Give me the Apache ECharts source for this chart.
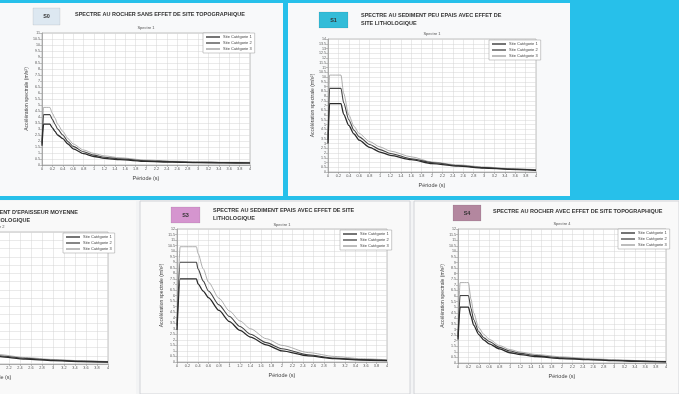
<!DOCTYPE html>
<html>
<head>
<meta charset="utf-8">
<script src="https://cdn.jsdelivr.net/npm/echarts@6/dist/echarts.min.js"></script>
<style>
  html, body { margin: 0; padding: 0; background: #f3f4f5; }
  #main { width: 679px; height: 394px; }
</style>
</head>
<body>
<div id="main"></div>
<script>
// categories (legend)
var categories = ['Site Catégorie 1', 'Site Catégorie 2', 'Site Catégorie 3'];

// S0 : rocher sans effet topographique
var periods0 = [0, 0.03, 0.15, 0.2, 0.25, 0.3, 0.4, 0.5, 0.6, 0.8, 1.0, 1.2, 1.5, 2.0, 2.5, 3.0, 3.5, 4.0];
var s0cat1 = [1.6, 3.4, 3.4, 3.1, 2.8, 2.5, 2.2, 1.75, 1.35, 0.95, 0.71, 0.56, 0.44, 0.3, 0.24, 0.2, 0.17, 0.16];
var s0cat2 = [1.8, 4.2, 4.2, 3.8, 3.4, 3.0, 2.5, 1.95, 1.55, 1.1, 0.82, 0.65, 0.51, 0.36, 0.28, 0.23, 0.2, 0.19];
var s0cat3 = [2.0, 4.8, 4.8, 4.3, 3.9, 3.4, 2.8, 2.2, 1.75, 1.25, 0.96, 0.76, 0.6, 0.41, 0.32, 0.27, 0.23, 0.22];

// S1 : sediment peu epais
var periods1 = [0, 0.03, 0.25, 0.3, 0.4, 0.5, 0.6, 0.8, 1.0, 1.2, 1.6, 2.0, 2.5, 3.0, 3.5, 4.0];
var s1cat1 = [3.0, 7.2, 7.2, 6.1, 4.9, 4.0, 3.35, 2.6, 2.1, 1.75, 1.3, 0.88, 0.62, 0.42, 0.28, 0.18];
var s1cat2 = [3.4, 8.8, 8.8, 7.3, 5.5, 4.4, 3.7, 2.9, 2.36, 1.95, 1.4, 1.0, 0.68, 0.46, 0.31, 0.21];
var s1cat3 = [3.8, 10.2, 10.2, 8.3, 6.0, 4.8, 4.05, 3.2, 2.64, 2.2, 1.6, 1.05, 0.75, 0.53, 0.36, 0.25];

// S2 : sediment d'epaisseur moyenne (partiellement visible)
var periods2 = [0, 0.05, 0.3, 0.4, 0.5, 0.6, 0.8, 1.0, 1.2, 1.5, 2.0, 2.5, 3.0, 3.5, 4.0];
var s2cat1 = [3.2, 8.0, 8.0, 6.2, 5.0, 4.2, 3.2, 2.5, 2.0, 1.5, 0.9, 0.6, 0.42, 0.3, 0.22];
var s2cat2 = [3.6, 9.4, 9.4, 7.2, 5.8, 4.8, 3.6, 2.8, 2.25, 1.7, 1.0, 0.68, 0.48, 0.35, 0.26];
var s2cat3 = [4.0, 11.0, 11.0, 8.4, 6.7, 5.5, 4.1, 3.2, 2.6, 1.95, 1.15, 0.78, 0.55, 0.4, 0.3];

// S3 : sediment epais
var periods3 = [0, 0.06, 0.37, 0.4, 0.5, 0.6, 0.8, 1.0, 1.2, 1.4, 1.7, 2.0, 2.5, 3.0, 3.5, 4.0];
var s3cat1 = [2.9, 7.5, 7.5, 7.05, 6.4, 5.8, 4.65, 3.65, 2.85, 2.25, 1.55, 1.0, 0.55, 0.3, 0.18, 0.12];
var s3cat2 = [3.3, 9.0, 9.0, 8.4, 7.3, 6.4, 5.15, 4.1, 3.2, 2.5, 1.75, 1.2, 0.65, 0.35, 0.22, 0.15];
var s3cat3 = [3.7, 10.4, 10.4, 9.8, 8.4, 7.2, 5.75, 4.6, 3.7, 3.0, 2.1, 1.5, 0.85, 0.5, 0.3, 0.2];

// S4 : rocher avec effet topographique
var periods4 = [0, 0.04, 0.2, 0.25, 0.3, 0.4, 0.5, 0.6, 0.8, 1.0, 1.2, 1.5, 2.0, 2.5, 3.0, 3.5, 4.0];
var s4cat1 = [2.1, 5.0, 5.0, 4.2, 3.4, 2.55, 2.05, 1.72, 1.26, 0.92, 0.75, 0.58, 0.4, 0.3, 0.21, 0.15, 0.1];
var s4cat2 = [2.3, 6.05, 6.05, 4.9, 3.9, 2.8, 2.25, 1.92, 1.4, 1.07, 0.86, 0.66, 0.46, 0.34, 0.25, 0.18, 0.12];
var s4cat3 = [2.6, 7.2, 7.2, 5.7, 4.5, 3.15, 2.55, 2.12, 1.56, 1.2, 0.98, 0.76, 0.55, 0.4, 0.3, 0.21, 0.15];

var yMax = [11, 14, 16, 12, 12];
var yStep = [0.5, 0.5, 1, 0.5, 0.5];

var panels = [
    {periods: periods0, vals: [s0cat1, s0cat2, s0cat3], grid: {left: 42, top: 33, width: 208, height: 132}, legend: {left: 203, top: 33}},
    {periods: periods1, vals: [s1cat1, s1cat2, s1cat3], grid: {left: 328, top: 39, width: 208, height: 133}, legend: {left: 489, top: 40}},
    {periods: periods2, vals: [s2cat1, s2cat2, s2cat3], grid: {left: -112, top: 232, width: 220, height: 132}, legend: {left: 63, top: 233}},
    {periods: periods3, vals: [s3cat1, s3cat2, s3cat3], grid: {left: 177, top: 229, width: 210, height: 133}, legend: {left: 340, top: 230}},
    {periods: periods4, vals: [s4cat1, s4cat2, s4cat3], grid: {left: 458, top: 229, width: 208, height: 134}, legend: {left: 618, top: 229}}
];

// styles des 3 courbes
var lineStyles = [
    {color: '#2a2a2a', width: 1.3},
    {color: '#444', width: 1.1},
    {color: '#9a9a9a', width: 0.8}
];

function pairs(xs, ys) {
    var out = [];
    for (var i = 0; i < xs.length; i++) out.push([xs[i], ys[i]]);
    return out;
}

var grids = [], xAxes = [], yAxes = [], series = [], legends = [];
panels.forEach(function (p, k) {
    grids.push({
        left: p.grid.left, top: p.grid.top, width: p.grid.width, height: p.grid.height,
        outerBoundsMode: 'none', containLabel: false,
        show: true, backgroundColor: '#fff', borderColor: '#9a9a9a', borderWidth: 0.6
    });
    xAxes.push({
        type: 'value', gridIndex: k, min: 0, max: 4, interval: 0.2,
        name: 'Période (s)', nameLocation: 'middle', nameGap: 10,
        nameTextStyle: {fontSize: 5.5, color: '#444'},
        axisLine: {lineStyle: {color: '#888', width: 0.6}},
        axisTick: {length: 2, lineStyle: {color: '#888', width: 0.5}},
        axisLabel: {fontSize: 3.8, color: '#555', margin: 2},
        splitLine: {lineStyle: {color: '#d4d4d4', width: 0.5}}
    });
    yAxes.push({
        type: 'value', gridIndex: k, min: 0, max: yMax[k], interval: yStep[k],
        name: 'Accélération spectrale (m/s²)', nameLocation: 'middle', nameGap: 13,
        nameTextStyle: {fontSize: 5, color: '#444'},
        axisLine: {show: true, lineStyle: {color: '#888', width: 0.6}},
        axisTick: {length: 2, lineStyle: {color: '#888', width: 0.5}},
        axisLabel: {fontSize: 3.6, color: '#555', margin: 2},
        splitLine: {lineStyle: {color: '#d4d4d4', width: 0.5}}
    });
    for (var c = 0; c < 3; c++) {
        series.push({
            name: categories[c], type: 'line', xAxisIndex: k, yAxisIndex: k,
            data: pairs(p.periods, p.vals[c]),
            showSymbol: false, smooth: 0.25, smoothMonotone: 'x',
            lineStyle: lineStyles[c], itemStyle: {color: lineStyles[c].color},
            z: 3 - c
        });
    }
    legends.push({
        data: categories, orient: 'vertical', left: p.legend.left, top: p.legend.top,
        itemWidth: 14, itemHeight: 1.3, itemGap: 2, padding: [2, 3, 2, 3],
        backgroundColor: '#fff', borderColor: '#999', borderWidth: 0.5,
        textStyle: {fontSize: 4, color: '#444', padding: [0, 0, 0, -2]},
        icon: 'rect', selectedMode: false
    });
});

var titleFont = 'Liberation Sans, Arial, sans-serif';
function txt(x, y, s, size, opts) {
    opts = opts || {};
    return {
        type: 'text', x: x, y: y, z: 100, silent: true,
        style: {
            text: s, fontSize: size, fontFamily: titleFont,
            fontWeight: opts.bold ? 'bold' : 'normal',
            fill: opts.color || '#333', align: opts.align || 'left', verticalAlign: 'top'
        }
    };
}
function box(x, y, w, h, fill, label) {
    return [
        {type: 'rect', x: x, y: y, z: 99, silent: true, shape: {width: w, height: h},
         style: {fill: fill, stroke: 'rgba(0,0,0,0.12)', lineWidth: 0.6}},
        txt(x + w / 2, y + h / 2 - 3, label, 5.5, {bold: true, align: 'center', color: '#333'})
    ];
}
function rect(x, y, w, h, fill, stroke) {
    return {type: 'rect', x: x, y: y, z: -10, silent: true, shape: {width: w, height: h},
            style: {fill: fill, stroke: stroke || null, lineWidth: 0.8}};
}

var graphics = [
    // fond bleu + cartes blanches du haut
    rect(0, 0, 679, 200, '#27c0ea'),
    rect(0, 3, 283, 193, '#f8f9fa'),
    rect(288, 3, 282, 193, '#f8f9fa'),
    // cartes du bas
    rect(0, 201, 136, 193, '#f9f9f9'),
    rect(140, 201, 270, 193, '#f9f9f9', '#c9ccd0'),
    rect(414, 201, 265, 193, '#f9f9f9', '#c9ccd0')
].concat(
    box(33, 8, 27, 17, '#dde8f1', 'S0'),
    box(319, 12, 29, 16, '#33bcd8', 'S1'),
    box(171, 207, 29, 16, '#d595cf', 'S3'),
    box(453, 205, 28, 16, '#b3879f', 'S4'),
    [
        txt(75, 11, 'SPECTRE AU ROCHER SANS EFFET DE SITE TOPOGRAPHIQUE', 5.5, {bold: true}),
        txt(361, 12, 'SPECTRE AU SEDIMENT PEU EPAIS AVEC EFFET DE', 5.5, {bold: true}),
        txt(361, 20, 'SITE LITHOLOGIQUE', 5.5, {bold: true}),
        txt(78, 209, "SPECTRE AU SEDIMENT D'EPAISSEUR MOYENNE", 5.5, {bold: true, align: 'right'}),
        txt(-70, 217, 'AVEC EFFET DE SITE LITHOLOGIQUE', 5.5, {bold: true}),
        txt(213, 207, 'SPECTRE AU SEDIMENT EPAIS AVEC EFFET DE SITE', 5.5, {bold: true}),
        txt(213, 215, 'LITHOLOGIQUE', 5.5, {bold: true}),
        txt(493, 208, 'SPECTRE AU ROCHER AVEC EFFET DE SITE TOPOGRAPHIQUE', 5.5, {bold: true}),
        // sous-titres
        txt(146, 26, 'Spectre 1', 4, {align: 'center', color: '#555'}),
        txt(432, 32, 'Spectre 1', 4, {align: 'center', color: '#555'}),
        txt(-4, 225, 'Spectre 2', 4, {align: 'center', color: '#555'}),
        txt(282, 223, 'Spectre 1', 4, {align: 'center', color: '#555'}),
        txt(562, 222, 'Spectre 4', 4, {align: 'center', color: '#555'})
    ]
);

var myChart = echarts.init(document.getElementById('main'));
var option = {
    animation: false,
    backgroundColor: '#f3f4f5',
    graphic: {elements: graphics},
    grid: grids,
    xAxis: xAxes,
    yAxis: yAxes,
    legend: legends,
    series: series
};
myChart.setOption(option);
</script>
</body>
</html>
